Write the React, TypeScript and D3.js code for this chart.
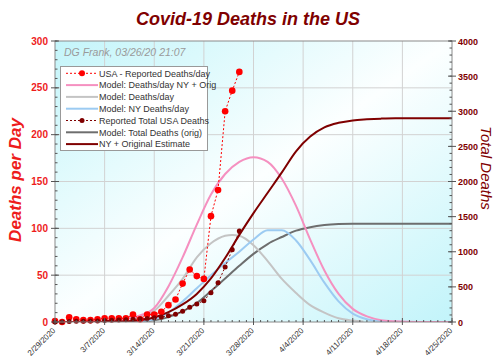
import * as d3 from 'd3';

const START = new Date(2020, 1, 29);

// reported values, one per day from 2/29/2020
const reportedDaily = [1, 0, 5, 3, 2, 2, 3, 4, 4, 4, 4, 8, 3, 8, 8, 11, 18, 24, 41, 56, 49, 46, 113, 141, 225, 247, 267];
const reportedTotal = [1, 1, 6, 9, 11, 13, 16, 20, 24, 28, 32, 40, 43, 51, 59, 70, 88, 112, 153, 209, 258, 304, 417, 558, 783, 1030, 1297];

// model curves, sampled at day offsets from 2/29/2020
const modelDays = [0, 4, 8, 10, 12, 14, 16, 18, 20, 22, 24, 26, 28, 30, 32, 34, 36, 38, 40, 42, 44, 46, 48, 50, 52, 56];
const modelNyOrig = [0, 0, 1, 3.5, 7, 15, 38, 69, 104, 136, 158, 171, 176, 171, 153, 124, 88, 55, 30, 14, 6, 2, 0.7, 0.2, 0, 0];
const modelNy = [0, 0, 0, 0.5, 1, 3, 10, 22, 36, 50, 63, 75, 88, 98, 98, 87, 66, 42, 22, 9, 3, 1, 0.3, 0, 0, 0];
const modelTotalOrig = [0, 0, 2, 5, 12, 25, 70, 150, 270, 440, 620, 800, 970, 1110, 1210, 1300, 1350, 1380, 1395, 1400, 1400, 1400, 1400, 1400, 1400, 1400];
const modelTotalNyOrig = [0, 0, 3, 10, 25, 65, 140, 250, 400, 620, 910, 1240, 1550, 1840, 2130, 2430, 2640, 2770, 2835, 2870, 2885, 2895, 2900, 2900, 2900, 2900];

const origDays = [0, 4, 8, 10, 12, 14, 16, 18, 20, 22, 24, 25, 26, 28, 30, 32, 34, 36, 38, 40, 42, 43.5];
const modelOrig = [0, 0, 1, 3, 6, 12, 28, 46, 69, 84, 92, 93, 92, 82, 65, 46, 31, 18, 10, 4, 1.5, 0.5];

const leftTicks = [0, 50, 100, 150, 200, 250, 300];
const rightTicks = [0, 500, 1000, 1500, 2000, 2500, 3000, 3500, 4000];

const legendItems = [
  { label: 'USA - Reported Deaths/day', color: '#ff0000', dash: '2,2', width: 1, dot: 3 },
  { label: 'Model: Deaths/day NY + Orig', color: '#f590c0', dash: null, width: 2, dot: 0 },
  { label: 'Model: Deaths/day', color: '#c4c4c4', dash: null, width: 2, dot: 0 },
  { label: 'Model: NY Deaths/day', color: '#9ccbf2', dash: null, width: 2, dot: 0 },
  { label: 'Reported Total USA Deaths', color: '#800000', dash: '2,2', width: 1, dot: 2.5 },
  { label: 'Model: Total Deaths (orig)', color: '#6e6e6e', dash: null, width: 2, dot: 0 },
  { label: 'NY + Original Estimate', color: '#7f0000', dash: null, width: 2, dot: 0 },
];

const FONT = '"Liberation Sans", Arial, sans-serif';

export default function App() {
  const W = 500;
  const H = 364;
  const m = { left: 55, right: 452, top: 41, bottom: 322 };

  const x = d3.scaleLinear().domain([0, 56]).range([m.left, m.right]);
  const yL = d3.scaleLinear().domain([0, 300]).range([m.bottom, m.top]);
  const yR = d3.scaleLinear().domain([0, 4000]).range([m.bottom, m.top]);

  const pts = (days: number[], vals: number[]) => days.map((d, i) => [d, vals[i]] as [number, number]);
  const lineL = d3.line<[number, number]>().x((d) => x(d[0])).y((d) => yL(d[1])).curve(d3.curveMonotoneX);
  const lineR = d3.line<[number, number]>().x((d) => x(d[0])).y((d) => yR(d[1])).curve(d3.curveMonotoneX);
  const straightL = d3.line<[number, number]>().x((d) => x(d[0])).y((d) => yL(d[1]));
  const straightR = d3.line<[number, number]>().x((d) => x(d[0])).y((d) => yR(d[1]));

  const dailyPts = reportedDaily.map((v, i) => [i, v] as [number, number]);
  const totalPts = reportedTotal.map((v, i) => [i, v] as [number, number]);

  const weekTicks = d3.range(0, 57, 7);
  const dayTicks = d3.range(0, 57);
  const fmt = d3.timeFormat('%-m/%-d/%Y');
  const minorL = d3.range(0, 301, 10);
  const minorR = d3.range(0, 4001, 100);

  return (
    <div style={{ position: 'absolute', left: 0, top: 0 }}>
      <svg width={W} height={H} style={{ display: 'block', fontFamily: FONT }}>
        <defs>
          <linearGradient id="bg" x1="0" y1="0" x2="1" y2="1">
            <stop offset="0" stopColor="#c4f5fa" />
            <stop offset="0.5" stopColor="#fcffff" />
            <stop offset="1" stopColor="#c2f4fa" />
          </linearGradient>
          <clipPath id="plot">
            <rect x={m.left} y={m.top} width={m.right - m.left} height={m.bottom - m.top} />
          </clipPath>
        </defs>
        <rect width={W} height={H} fill="#fff" />
        <rect x={m.left} y={m.top} width={m.right - m.left} height={m.bottom - m.top} fill="url(#bg)" />

        {/* grid */}
        {weekTicks.slice(1, -1).map((d) => (
          <line key={'gx' + d} x1={x(d)} x2={x(d)} y1={m.top} y2={m.bottom} stroke="#d2d2d2" />
        ))}
        {leftTicks.slice(1, -1).map((v) => (
          <line key={'gy' + v} x1={m.left} x2={m.right} y1={yL(v)} y2={yL(v)} stroke="#d2d2d2" />
        ))}

        <text x={64} y={56} fontSize={10.5} fontStyle="italic" fill="#9a9a9a">
          DG Frank, 03/26/20 21:07
        </text>

        <g clipPath="url(#plot)" fill="none">
          <path d={lineR(pts(modelDays, modelTotalOrig)) ?? ''} stroke="#6e6e6e" strokeWidth={2} />
          <path d={lineL(pts(origDays, modelOrig)) ?? ''} stroke="#c4c4c4" strokeWidth={2} />
          <path d={lineL(pts(modelDays, modelNy)) ?? ''} stroke="#9ccbf2" strokeWidth={2} />
          <path d={lineL(pts(modelDays, modelNyOrig)) ?? ''} stroke="#f590c0" strokeWidth={2} />
          <path d={lineR(pts(modelDays, modelTotalNyOrig)) ?? ''} stroke="#7f0000" strokeWidth={2} />
          <path d={straightR(totalPts) ?? ''} stroke="#800000" strokeWidth={1} strokeDasharray="2,2" />
          <path d={straightL(dailyPts) ?? ''} stroke="#ff0000" strokeWidth={1} strokeDasharray="2,2" />
        </g>
        {dailyPts.map((d) => (
          <circle key={'rd' + d[0]} cx={x(d[0])} cy={yL(d[1])} r={3.3} fill="#ff0000" />
        ))}
        {totalPts.map((d) => (
          <circle key={'rt' + d[0]} cx={x(d[0])} cy={yR(d[1])} r={2.5} fill="#800000" />
        ))}

        {/* frame */}
        <rect x={m.left} y={m.top} width={m.right - m.left} height={m.bottom - m.top} fill="none" stroke="#8a8a8a" />

        {/* left axis */}
        {minorL.map((v) => (
          <line key={'ml' + v} x1={m.left} x2={m.left + 2.5} y1={yL(v)} y2={yL(v)} stroke="#555" />
        ))}
        {leftTicks.map((v) => (
          <g key={'tl' + v}>
            <line x1={m.left - 4} x2={m.left + 4} y1={yL(v)} y2={yL(v)} stroke="#555" />
            <text x={m.left - 7} y={yL(v) + 3.5} textAnchor="end" fontSize={10} fontWeight="bold" fill="#ee1c1c">
              {v}
            </text>
          </g>
        ))}
        {/* right axis */}
        {minorR.map((v) => (
          <line key={'mr' + v} x1={m.right - 2.5} x2={m.right} y1={yR(v)} y2={yR(v)} stroke="#555" />
        ))}
        {rightTicks.map((v) => (
          <g key={'tr' + v}>
            <line x1={m.right - 4} x2={m.right + 4} y1={yR(v)} y2={yR(v)} stroke="#555" />
            <text x={m.right + 6} y={yR(v) + 3.5} fontSize={9} fontWeight="bold" fill="#800000">
              {v}
            </text>
          </g>
        ))}
        {/* x axis */}
        {dayTicks.map((d) => (
          <line key={'dx' + d} x1={x(d)} x2={x(d)} y1={m.bottom} y2={m.bottom - 2} stroke="#555" />
        ))}
        {weekTicks.map((d) => (
          <g key={'wx' + d}>
            <line x1={x(d)} x2={x(d)} y1={m.bottom + 3} y2={m.bottom - 4} stroke="#555" />
            <text
              transform={`translate(${x(d) + 1},${m.bottom + 9}) rotate(-45)`}
              textAnchor="end"
              fontSize={8}
              fill="#333"
            >
              {fmt(d3.timeDay.offset(START, d))}
            </text>
          </g>
        ))}

        {/* legend */}
        <rect x={60.5} y={66.5} width={147} height={84} fill="#fff" stroke="#999" />
        {legendItems.map((it, i) => {
          const cy = 73.3 + i * 11.8;
          return (
            <g key={it.label}>
              <line
                x1={66}
                x2={98}
                y1={cy}
                y2={cy}
                stroke={it.color}
                strokeWidth={it.width}
                strokeDasharray={it.dash ?? undefined}
              />
              {it.dot > 0 && <circle cx={82} cy={cy} r={it.dot} fill={it.color} />}
              <text x={99} y={cy + 3.2} fontSize={9} fill="#333">
                {it.label}
              </text>
            </g>
          );
        })}

        {/* titles */}
        <text x={248} y={25} textAnchor="middle" fontSize={18} fontWeight="bold" fontStyle="italic" fill="#800000">
          Covid-19 Deaths in the US
        </text>
        <text
          transform={`translate(21,180) rotate(-90)`}
          textAnchor="middle"
          fontSize={17}
          fontWeight="bold"
          fontStyle="italic"
          fill="#ee1c1c"
        >
          Deaths per Day
        </text>
        <text
          transform={`translate(481,168) rotate(90)`}
          textAnchor="middle"
          fontSize={15}
          fontStyle="italic"
          fill="#800000"
        >
          Total Deaths
        </text>
      </svg>
    </div>
  );
}
